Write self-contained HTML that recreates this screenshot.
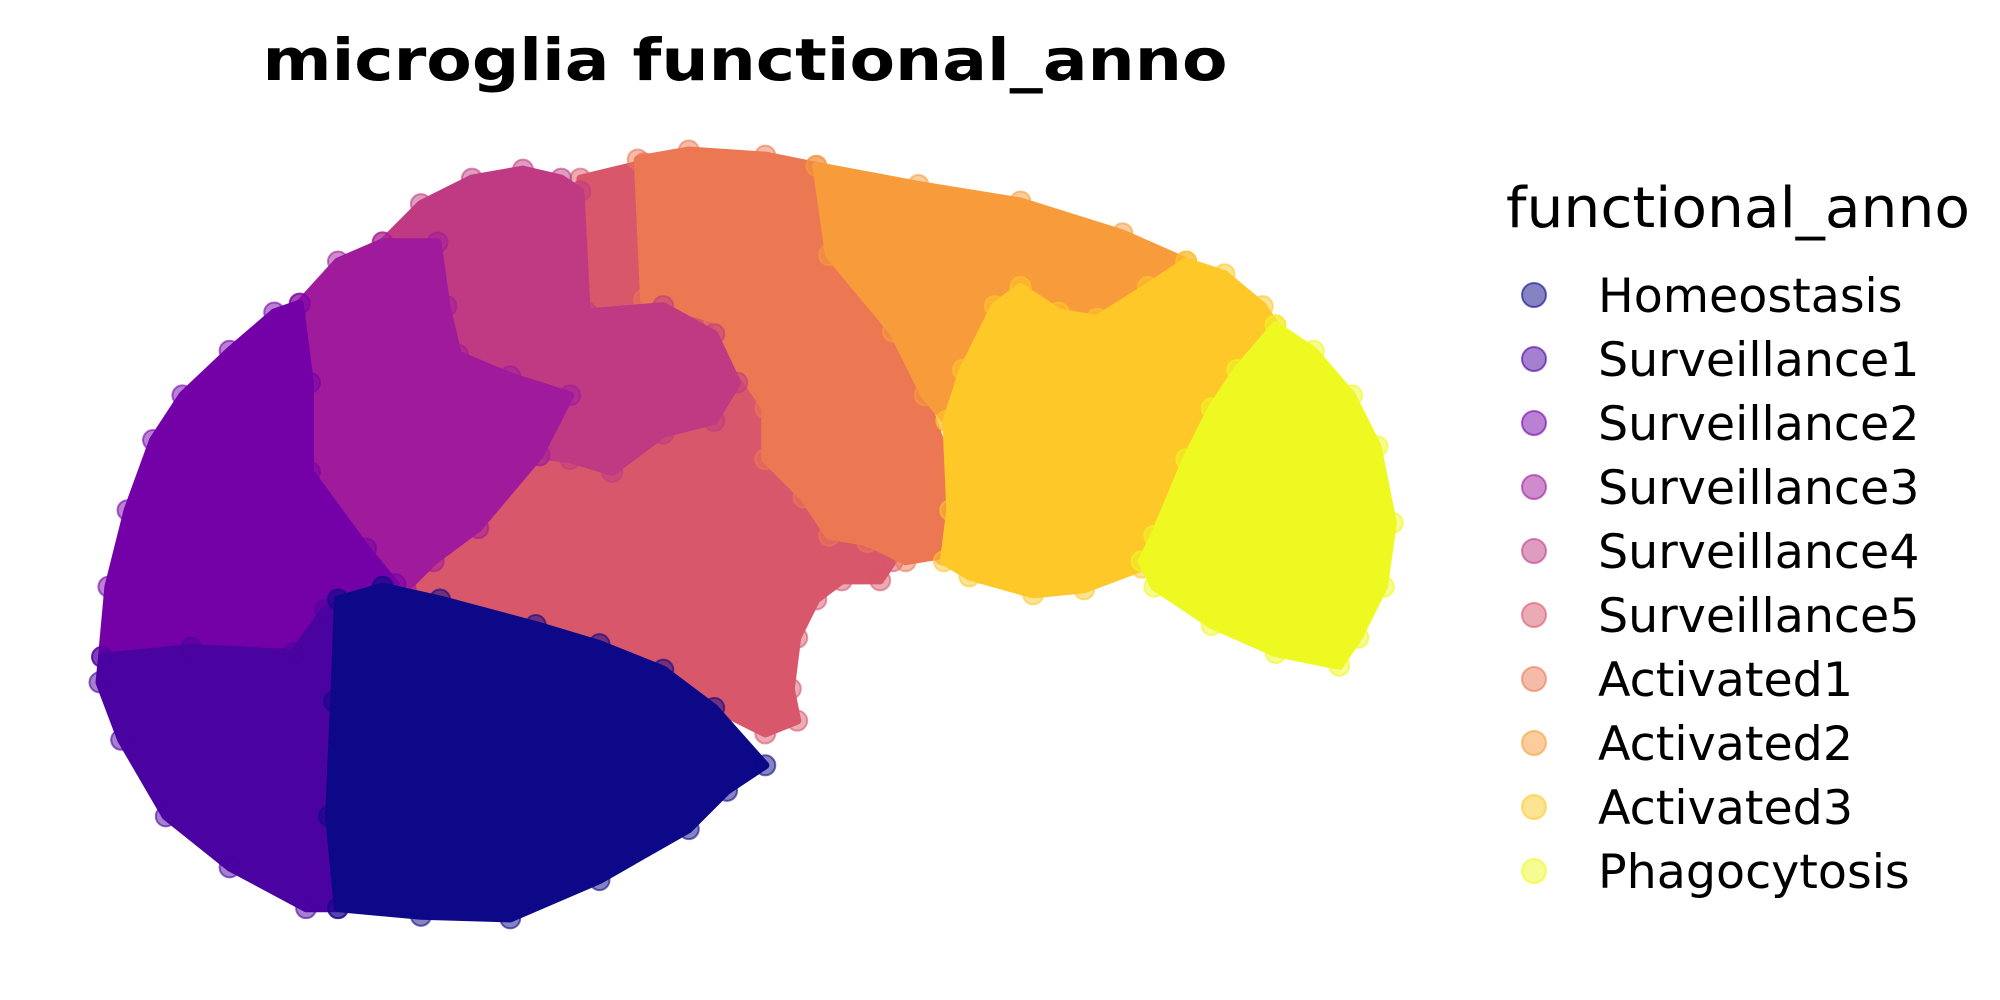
<!DOCTYPE html>
<html><head><meta charset="utf-8"><style>
html,body{margin:0;padding:0;background:#fff;width:2000px;height:1000px;overflow:hidden}
svg{display:block}
</style></head><body>
<svg id="chart" width="2000" height="1000" viewBox="0 0 2000 1000" xmlns="http://www.w3.org/2000/svg">
<text x="745" y="80" text-anchor="middle" font-family="DejaVu Sans, Liberation Sans, sans-serif" font-weight="bold" font-size="58" textLength="965" lengthAdjust="spacingAndGlyphs">microglia functional_anno</text>
<g id="plot"></g>
<g id="legend">
<text x="1506" y="227" font-family="DejaVu Sans, Liberation Sans, sans-serif" font-size="56" textLength="464" lengthAdjust="spacingAndGlyphs">functional_anno</text>
</g>
</svg>
<script>
const categories = ["Homeostasis","Surveillance1","Surveillance2","Surveillance3","Surveillance4","Surveillance5","Activated1","Activated2","Activated3","Phagocytosis"];
const colors = ["#0d0887","#4a02a0","#7401a8","#a01a9c","#c03a83","#d8576b","#ec7853","#f89c3b","#fdc828","#eef921"];
// cluster outline points in embedding units
const surveillance5Pts = [[455,140],[505,128],[505,235],[560,250],[580,290],[600,320],[600,360],[630,390],[650,420],[700,440],[690,455],[660,455],[640,470],[625,500],[620,540],[625,565],[600,575],[560,555],[520,525],[470,505],[420,490],[345,470],[318,462],[330,350],[400,300],[455,240]];
const activated1Pts = [[500,125],[540,118],[600,122],[640,130],[650,200],[700,260],[725,310],[742,360],[745,400],[740,435],[710,440],[680,425],[650,420],[630,390],[600,360],[600,320],[580,290],[560,250],[505,235]];
const activated2Pts = [[640,130],[720,145],[800,158],[880,183],[930,205],[900,225],[860,250],[830,245],[800,225],[780,240],[755,290],[742,330],[725,310],[700,260],[650,200]];
const activated3Pts = [[742,330],[755,290],[780,240],[800,225],[830,245],[860,250],[900,225],[930,205],[960,215],[990,240],[1000,255],[970,290],[950,320],[930,360],[905,420],[895,445],[850,462],[810,466],[760,452],[740,440],[745,400]];
const phagocytosisPts = [[1000,255],[1030,275],[1060,310],[1080,350],[1092,410],[1085,460],[1065,500],[1050,522],[1000,512],[950,490],[905,460],[895,440],[905,420],[930,360],[950,320],[970,290]];
const surveillance4Pts = [[300,190],[330,160],[370,140],[410,133],[440,140],[455,150],[460,245],[520,240],[560,262],[578,300],[560,330],[520,340],[480,370],[447,360],[423,357],[447,310],[400,295],[359,278],[350,240],[343,190]];
const surveillance3Pts = [[235,238],[265,205],[300,190],[343,190],[350,240],[359,278],[400,295],[447,310],[423,357],[375,414],[340,440],[318,462],[310,458],[287,430],[243,370],[243,300]];
const surveillance2Pts = [[80,515],[85,460],[100,400],[120,345],[143,310],[180,275],[215,245],[235,238],[243,300],[243,370],[287,430],[310,458],[300,460],[255,478],[230,512],[150,508]];
const surveillance1Pts = [[80,515],[150,508],[230,512],[255,478],[300,460],[265,470],[262,550],[258,640],[265,712],[240,712],[180,680],[130,640],[95,580],[78,535]];
const homeostasisPts = [[265,470],[300,460],[345,470],[420,490],[470,505],[520,525],[560,555],[600,600],[570,620],[540,650],[470,690],[400,720],[330,718],[265,712],[258,640],[262,550]];
const drawOrder = [5,6,7,8,9,4,3,2,1,0];
const clusterPts = [homeostasisPts,surveillance1Pts,surveillance2Pts,surveillance3Pts,surveillance4Pts,surveillance5Pts,activated1Pts,activated2Pts,activated3Pts,phagocytosisPts];

const K = 2000/1568;
function sx(v){return v*K;}
function sy(v){return v*K;}
const NS="http://www.w3.org/2000/svg";
const plot=document.getElementById('plot');
drawOrder.forEach(ci=>{
  const pts=clusterPts[ci];
  const g=document.createElementNS(NS,'g');
  
  
  const p=document.createElementNS(NS,'path');
  
  
  p.setAttribute('d','M'+pts.map(q=>sx(q[0]).toFixed(1)+','+sy(q[1]).toFixed(1)).join('L')+'Z');
  p.setAttribute('fill',colors[ci]);
  p.setAttribute('stroke',colors[ci]);
  p.setAttribute('stroke-width','8');
  p.setAttribute('stroke-linejoin','round');
  g.appendChild(p);
  pts.forEach(q=>{
    const c=document.createElementNS(NS,'circle');
    
    
    c.setAttribute('cx',sx(q[0]));c.setAttribute('cy',sy(q[1]));c.setAttribute('r',10);
    c.setAttribute('fill',colors[ci]);c.setAttribute('fill-opacity','0.5');
    c.setAttribute('stroke',colors[ci]);c.setAttribute('stroke-opacity','0.6');c.setAttribute('stroke-width','2');
    g.appendChild(c);
  });
  plot.appendChild(g);
});
const leg=document.getElementById('legend');
categories.forEach((name,i)=>{
  const y=295+i*64;
  const g=document.createElementNS(NS,'g');
  
  
  const c=document.createElementNS(NS,'circle');
  
  
  c.setAttribute('cx',1534);c.setAttribute('cy',y);c.setAttribute('r',12);
  c.setAttribute('fill',colors[i]);c.setAttribute('fill-opacity','0.5');
  c.setAttribute('stroke',colors[i]);c.setAttribute('stroke-opacity','0.6');c.setAttribute('stroke-width','2');
  const t=document.createElementNS(NS,'text');
  
  
  t.setAttribute('x',1598);t.setAttribute('y',y+17);
  t.setAttribute('font-family','DejaVu Sans, Liberation Sans, sans-serif');
  t.setAttribute('font-size','47.5');
  t.textContent=name;
  g.appendChild(c);g.appendChild(t);leg.appendChild(g);
});
</script>
</body></html>
